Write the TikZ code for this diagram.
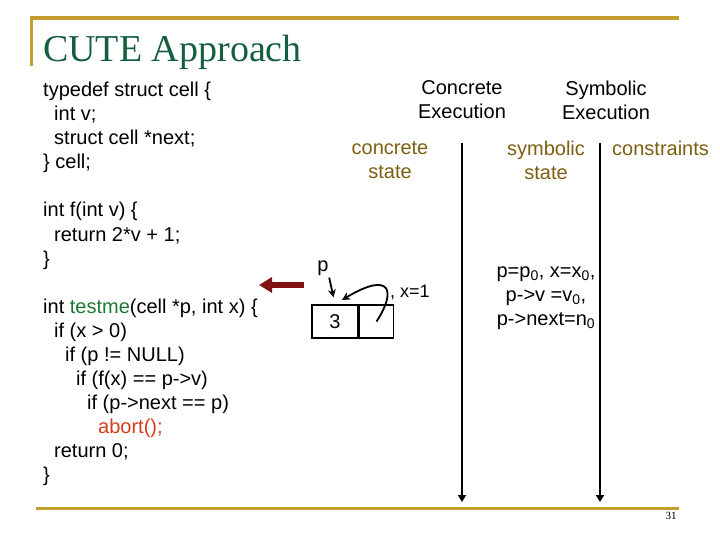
\documentclass[tikz,border=0pt]{standalone}
\usepackage{fontspec}
\setmainfont{Liberation Sans}
\newfontfamily\titlefont{Liberation Serif}
\definecolor{slidegold}{RGB}{196,157,46}
\definecolor{titlegreen}{RGB}{22,95,62}
\definecolor{fngreen}{RGB}{30,120,50}
\definecolor{abortred}{RGB}{210,60,25}
\definecolor{arrowred}{RGB}{128,18,18}
\definecolor{olive}{RGB}{125,94,18}
\usetikzlibrary{arrows.meta,positioning,calc}

\tikzset{
  code/.style={anchor=north west, inner sep=0pt, align=left, font=\fontsize{20}{24}\selectfont},
  head/.style={align=center, inner sep=0pt, font=\fontsize{20}{24}\selectfont},
  colhead/.style={head, text=olive},
  timeline/.style={line width=1.8pt, -{Triangle[width=8pt,length=7pt]}},
  cellbox/.style={draw, line width=1.5pt, minimum width=46pt, minimum height=33pt, inner sep=0pt, font=\fontsize{20}{24}\selectfont},
  ptr/.style={line width=1.8pt, -{Stealth[width=8pt,length=8pt]}}
}

\begin{document}
\begin{tikzpicture}[x=1pt,y=-1pt]
  \useasboundingbox (0,0) rectangle (720,540);

  % slide frame
  \draw[slidegold, line width=4pt] (30,18) -- (679,18);
  \draw[slidegold, line width=3pt] (31.5,18) -- (31.5,66);
  \draw[slidegold, line width=3pt] (36,508) -- (679,508);
  \node[anchor=base west, inner sep=0pt, text=titlegreen, font=\titlefont\fontsize{38}{40}\selectfont] (title) at (43,62) {CUTE Approach};
  \node[inner sep=0pt, font=\titlefont\fontsize{11}{12}\selectfont] (pagenum) at (671,516) {31};

  % program
  \node[code] (typedefs) at (43,80) {\strut typedef struct cell \{\\
    \strut\hspace*{11pt}int v;\\
    \strut\hspace*{11pt}struct cell *next;\\
    \strut\} cell;};
  \node[code] (ffun) at (43,200) {\strut int f(int v) \{\\
    \strut\hspace*{11pt}return 2*v + 1;\\
    \strut\}};
  \node[code] (testme) at (43,296) {\strut int \textcolor{fngreen}{testme}(cell *p, int x) \{\\
    \strut\hspace*{11pt}if (x > 0)\\
    \strut\hspace*{22pt}if (p != NULL)\\
    \strut\hspace*{33pt}if (f(x) == p->v)\\
    \strut\hspace*{44pt}if (p->next == p)\\
    \strut\hspace*{55pt}\textcolor{abortred}{abort();}\\
    \strut\hspace*{11pt}return 0;\\
    \strut\}};

  % column headings
  \node[head] (concexec) at (462,100) {Concrete\\Execution};
  \node[head] (symbexec) at (606,100) {Symbolic\\Execution};
  \node[colhead] (concstate) at (390,160) {concrete\\state};
  \node[colhead] (symbstate) at (546,160) {symbolic\\state};
  \node[colhead, anchor=west] (constr) at (612,148) {constraints};

  % time lines
  \coordinate (conctop) at (462,143);
  \coordinate (concbot) at (462,502);
  \coordinate (symbtop) at (600,143);
  \coordinate (symbbot) at (600,502);
  \draw[timeline] (conctop) -- (concbot);
  \draw[timeline] (symbtop) -- (symbbot);

  % current statement marker
  \coordinate (marktail) at (304,285);
  \coordinate (markhead) at (259,285);
  \draw[arrowred, line width=6pt, -{Triangle[width=15pt,length=13pt]}] (marktail) -- (markhead);

  % concrete state
  \node[cellbox] (cellv) at (335,321.5) {3};
  \node[cellbox, right=0pt of cellv, minimum width=34pt] (cellnext) {};
  \node[inner sep=0pt, font=\fontsize{20}{24}\selectfont] (plabel) at (323,268) {p};
  \node[anchor=west, inner sep=0pt, font=\fontsize{18}{22}\selectfont] (xval) at (390,292) {, x=1};
  \coordinate (selftip) at (342,300);
  \draw[ptr, shorten >=7pt, shorten <=2pt] (plabel.south east) -- (cellv.north);
  \draw[ptr] (cellnext.center) .. controls (396,292) and (392,270) .. (selftip);

  % symbolic state
  \node[head] (symbvals) at (546,298) {p=p\textsubscript{0}, x=x\textsubscript{0},\\p->v =v\textsubscript{0},\\p->next=n\textsubscript{0}};
\end{tikzpicture}
\end{document}
